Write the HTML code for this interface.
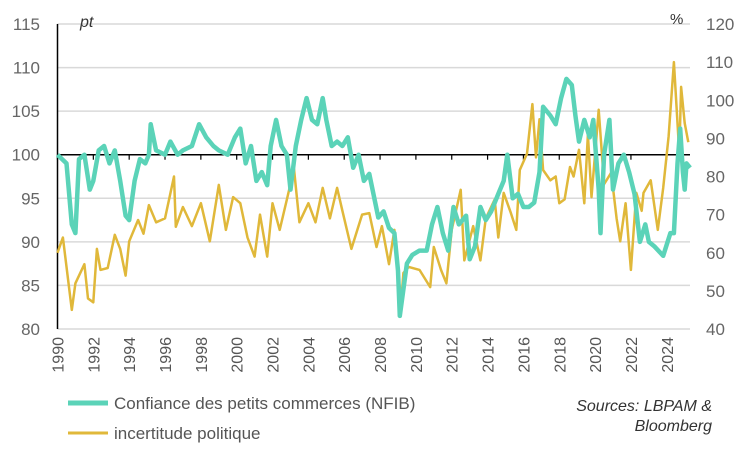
<!DOCTYPE html>
<html><head><meta charset="utf-8"><style>
body{margin:0;background:#fff;}
svg{display:block;font-family:"Liberation Sans",sans-serif;}
</style></head><body>
<svg id="c" width="752" height="452" viewBox="0 0 752 452">
<g id="grid"></g><g id="axes"></g><g id="series"></g>
<text x="80" y="27" font-size="16" font-style="italic" fill="#333">pt</text>
<text x="670" y="24" font-size="15" fill="#333">%</text>
<line x1="68" y1="403" x2="108" y2="403" stroke="#5BD3B8" stroke-width="5"/>
<text x="114" y="409" font-size="17" fill="#555">Confiance des petits commerces (NFIB)</text>
<line x1="68" y1="433" x2="108" y2="433" stroke="#E0B83A" stroke-width="3"/>
<text x="114" y="439" font-size="17" fill="#555">incertitude politique</text>
<text x="712" y="411" font-size="16" font-style="italic" fill="#333" text-anchor="end">Sources: LBPAM &amp;</text>
<text x="712" y="431" font-size="16" font-style="italic" fill="#333" text-anchor="end">Bloomberg</text>
</svg>
<script>
const leftTicks=[80,85,90,95,100,105,110,115];
const rightTicks=[40,50,60,70,80,90,100,110,120];
const yearTicks=[1990,1992,1994,1996,1998,2000,2002,2004,2006,2008,2010,2012,2014,2016,2018,2020,2022,2024];
const nfibT=[1990.0,1990.5,1990.8,1991.0,1991.2,1991.5,1991.8,1992.0,1992.3,1992.6,1992.9,1993.2,1993.5,1993.8,1994.0,1994.3,1994.6,1994.9,1995.1,1995.2,1995.5,1996.0,1996.3,1996.7,1997.0,1997.5,1997.9,1998.3,1998.7,1999.0,1999.5,1999.9,2000.2,2000.5,2000.8,2001.1,2001.4,2001.7,2001.9,2002.2,2002.5,2002.8,2003.0,2003.3,2003.6,2003.9,2004.2,2004.5,2004.8,2005.0,2005.3,2005.6,2005.9,2006.2,2006.5,2006.8,2007.1,2007.4,2007.9,2008.2,2008.5,2008.8,2009.0,2009.1,2009.5,2009.8,2010.2,2010.6,2010.9,2011.2,2011.5,2011.8,2012.1,2012.4,2012.8,2013.0,2013.3,2013.6,2013.9,2014.2,2014.6,2014.9,2015.1,2015.4,2015.7,2016.0,2016.3,2016.6,2016.9,2017.1,2017.5,2017.8,2018.1,2018.4,2018.7,2018.9,2019.1,2019.4,2019.7,2019.9,2020.2,2020.3,2020.5,2020.8,2021.0,2021.3,2021.6,2021.9,2022.2,2022.5,2022.8,2023.0,2023.3,2023.8,2024.2,2024.4,2024.6,2024.75,2024.9,2025.0,2025.1,2025.3];
const nfibV=[100,99,92,91,99.5,100,96,97,100.5,101,99,100.5,97,93,92.5,97,99.5,99,100,103.5,100.5,100,101.5,100,100.5,101,103.5,102,101,100.5,100,102,103,99,101,97,98,96.5,101,104,101,100,96,101,104,106.5,104,103.5,106.5,104,101,101.5,101,102,98.5,100,97,97.8,92.8,93.5,91.6,91,86.7,81.5,87.5,88.5,89,89,92,94,91,89,94,92,93,88,89.5,94,92.5,93.5,95.5,97,100,95,95.5,94,94,94.5,98,105.5,104.5,103.5,106.5,108.7,108,104.5,101.5,104,102,104,96,91,100,104,96,99,100,98,95.5,90,92,90,89.5,88.4,91,91,99,103,98,96,99,98.5];
const uncT=[1990.0,1990.3,1990.8,1991.0,1991.5,1991.7,1992.0,1992.2,1992.4,1992.8,1993.2,1993.5,1993.8,1994.0,1994.5,1994.8,1995.1,1995.5,1996.0,1996.5,1996.6,1997.0,1997.5,1998.0,1998.5,1999.0,1999.4,1999.8,2000.2,2000.6,2001.0,2001.3,2001.7,2002.0,2002.4,2002.8,2003.2,2003.5,2004.0,2004.4,2004.8,2005.2,2005.6,2005.9,2006.4,2007.0,2007.4,2007.8,2008.1,2008.5,2008.8,2009.0,2009.2,2009.3,2009.6,2010.2,2010.8,2011.0,2011.4,2011.7,2012.0,2012.5,2012.7,2013.2,2013.6,2013.9,2014.4,2014.6,2014.9,2015.3,2015.6,2015.8,2016.2,2016.5,2016.7,2016.9,2017.1,2017.5,2017.8,2018.0,2018.3,2018.6,2018.8,2019.1,2019.4,2019.6,2019.8,2020.2,2020.5,2020.9,2021.2,2021.4,2021.7,2022.0,2022.3,2022.6,2022.7,2023.1,2023.5,2023.8,2024.1,2024.4,2024.7,2024.8,2025.0,2025.2];
const uncV=[60,64,45,52,57,48,47,61,55.5,56,64.7,61,54,63,68.6,65,72.5,68,69,80,66.8,72,67,73,63,77.8,66,74.6,73,64,59,70,59,73,66,74,82,68,73,68,77,69,77,71,61,70,70.4,61.5,67,57,66,53.6,48.5,54.7,56.3,55.5,51,61.5,55.5,52,66,76.5,58,67,58,69,74,64,75.7,70.4,66,81.7,86,99,85,95,81.7,79,80,73,74,82.5,80,87,73,91,74.6,97.5,78,81,69,63,73,55.5,75.7,71,75.7,79,66,77,90.5,110,86,103.5,94,89];
const NS='http://www.w3.org/2000/svg';
const X0=57.5,XL=690,YT=24,YB=329;
function xs(t){return X0+(t-1990)*17.92;}
function yl(v){return YB-(v-80)/35*(YB-YT);}
function yr(v){return YB-(v-40)/80*(YB-YT);}
function mk(tag,attrs,parent){const e=document.createElementNS(NS,tag);for(const k in attrs)e.setAttribute(k,attrs[k]);parent.appendChild(e);return e;}
const grid=document.getElementById('grid'),axes=document.getElementById('axes'),ser=document.getElementById('series');
leftTicks.forEach(v=>{
 const l=mk('line',{x1:X0,x2:XL,y1:yl(v),y2:yl(v),stroke:'#d9d9d9','stroke-width':1.5},grid);
 
 
 const t=mk('text',{x:40,y:yl(v)+6,'font-size':17,fill:'#666','text-anchor':'end'},axes);
 t.textContent=v;
 
 
});
rightTicks.forEach(v=>{
 const t=mk('text',{x:706,y:yr(v)+6,'font-size':17,fill:'#666'},axes);
 t.textContent=v;
 
 
});
const va=mk('line',{x1:X0,x2:X0,y1:YT,y2:YB,stroke:'#000','stroke-width':1.5},axes);


const ha=mk('line',{x1:X0,x2:XL,y1:yl(100),y2:yl(100),stroke:'#000','stroke-width':1.5},axes);


yearTicks.forEach(y=>{
 const x=xs(y);
 const tk=mk('line',{x1:x,x2:x,y1:yl(100),y2:yl(100)+5,stroke:'#000','stroke-width':1.2},axes);
 
 
 const t=mk('text',{x:0,y:0,'font-size':16,fill:'#555','text-anchor':'end',transform:`translate(${x+6},${YB+8}) rotate(-90)`},axes);
 t.textContent=y;
 
 
});
function path(T,V,fy){return T.map((t,i)=>(i?'L':'M')+xs(t).toFixed(1)+','+fy(V[i]).toFixed(1)).join('');}
const pu=mk('path',{d:path(uncT,uncV,yr),fill:'none',stroke:'#E0B83A','stroke-width':2.5,'stroke-linejoin':'round'},ser);


const pn=mk('path',{d:path(nfibT,nfibV,yl),fill:'none',stroke:'#5BD3B8','stroke-width':4.5,'stroke-linejoin':'round'},ser);


</script>
</body></html>
